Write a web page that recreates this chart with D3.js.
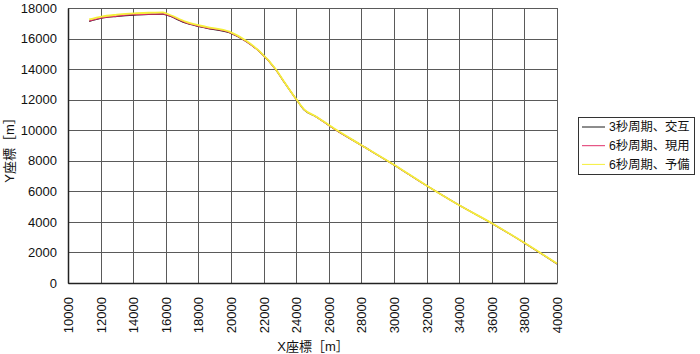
<!DOCTYPE html>
<html>
<head>
<meta charset="utf-8">
<script src="https://cdn.jsdelivr.net/npm/d3@7"></script>
<style>
  body { margin: 0; background: #fff; }
  text { font-family: "Liberation Sans", Arial, "Noto Sans CJK JP", sans-serif; fill: #111; }
</style>
</head>
<body>
<div id="chart"></div>
<script>
// ************ data ************
const xTicks = [10000, 12000, 14000, 16000, 18000, 20000, 22000, 24000, 26000, 28000, 30000, 32000, 34000, 36000, 38000, 40000]
const yTicks = [0, 2000, 4000, 6000, 8000, 10000, 12000, 14000, 16000, 18000]

const seriesNames = ["3秒周期、交互", "6秒周期、現用", "6秒周期、予備"]
const seriesColors = ["#1a1a1a", "#e0306a", "#f5ef3a"]

// x positions (shared by the three series)
const posX = [11300, 12060, 13000, 14040, 15000, 15830, 16040, 17260, 18480, 19900, 20930, 21740, 22760, 23170, 24020, 24500, 25210, 26430, 27960, 30000, 31940, 33980, 36010, 38050, 40000]

const alt3s = [17120, 17330, 17450, 17540, 17580, 17600, 17540, 17000, 16680, 16380, 15800, 15150, 13950, 13300, 12000, 11320, 10880, 10020, 9040, 7730, 6410, 5100, 3900, 2590, 1250]
const cur6s = [17150, 17350, 17470, 17560, 17600, 17620, 17560, 17020, 16700, 16400, 15810, 15150, 13950, 13300, 11990, 11330, 10890, 10020, 9040, 7730, 6410, 5100, 3900, 2590, 1260]
const spare6s = [17250, 17440, 17560, 17650, 17690, 17710, 17640, 17090, 16760, 16450, 15850, 15180, 13970, 13320, 12010, 11350, 10900, 10040, 9050, 7740, 6420, 5110, 3910, 2600, 1270]

const seriesValues = [alt3s, cur6s, spare6s]

// ************ layout ************
const svgWidth = 700
const svgHeight = 354
const margin = { top: 8, right: 143, bottom: 71, left: 68 }
const width = svgWidth - margin.left - margin.right
const height = svgHeight - margin.top - margin.bottom

const x = d3.scaleLinear().domain([10000, 40000]).range([0, width])
const y = d3.scaleLinear().domain([0, 18000]).range([height, 0])

const svg = d3.select("#chart")
  .append("svg")
  .attr("width", svgWidth)
  .attr("height", svgHeight)

const g = svg.append("g")
  .attr("transform", "translate(" + margin.left + "," + margin.top + ")")

// grid
g.append("g")
  .selectAll("line")
  .data(xTicks)
  .enter()
  .append("line")
  .attr("x1", d => Math.round(x(d)) + 0.5)
  .attr("x2", d => Math.round(x(d)) + 0.5)
  .attr("y1", 0)
  .attr("y2", height)
  .attr("stroke", "#5a5a5a")
  .attr("stroke-width", 1)

g.append("g")
  .selectAll("line")
  .data(yTicks)
  .enter()
  .append("line")
  .attr("x1", 0)
  .attr("x2", width)
  .attr("y1", d => Math.round(y(d)) + 0.5)
  .attr("y2", d => Math.round(y(d)) + 0.5)
  .attr("stroke", "#5a5a5a")
  .attr("stroke-width", 1)

// axes
const xAxis = d3.axisBottom(x).tickValues(xTicks).tickSize(0).tickPadding(0).tickFormat(d3.format("d"))
const yAxis = d3.axisLeft(y).tickValues(yTicks).tickSize(0).tickPadding(11).tickFormat(d3.format("d"))

const gx = g.append("g")
  .attr("transform", "translate(0," + height + ")")
  .call(xAxis)
gx.select(".domain").attr("stroke", "#222").attr("stroke-width", 1.5)
gx.selectAll("text")
  .attr("transform", "rotate(-90)")
  .attr("x", -14)
  .attr("y", 0)
  .attr("dy", "0.35em")
  .style("text-anchor", "end")
  .style("font-size", "13px")
  .style("fill", "#111")

const gy = g.append("g").call(yAxis)
gy.select(".domain").attr("stroke", "#222").attr("stroke-width", 1.5)
gy.selectAll("text")
  .style("font-size", "13px")
  .style("fill", "#111")

// series lines
const line = d3.line()
  .x((d, i) => x(posX[i]))
  .y(d => y(d))
  .curve(d3.curveMonotoneX)

const widths = [1.2, 1.2, 1.8]
seriesValues.forEach(function(vals, k) {
  g.append("path")
    .datum(vals)
    .attr("fill", "none")
    .attr("stroke", seriesColors[k])
    .attr("stroke-width", widths[k])
    .attr("d", line)
})

// axis titles
svg.append("text")
  .attr("x", 313)
  .attr("y", 351)
  .attr("text-anchor", "middle")
  .style("font-size", "13px")
  .text("X座標［m］")

svg.append("text")
  .attr("transform", "translate(14,147) rotate(-90)")
  .attr("text-anchor", "middle")
  .style("font-size", "13px")
  .text("Y座標［m］")

// legend
const legend = svg.append("g").attr("transform", "translate(578,117)")
legend.append("rect")
  .attr("x", 0.5)
  .attr("y", 0.5)
  .attr("width", 116)
  .attr("height", 57)
  .attr("fill", "#fff")
  .attr("stroke", "#333")

const items = legend.selectAll(".item")
  .data(seriesNames)
  .enter()
  .append("g")
  .attr("transform", (d, i) => "translate(0," + (10 + i * 18.7) + ")")

items.append("line")
  .attr("x1", 4)
  .attr("x2", 27)
  .attr("y1", 0)
  .attr("y2", 0)
  .attr("stroke", (d, i) => seriesColors[i])
  .attr("stroke-width", 1)

items.append("text")
  .attr("x", 31)
  .attr("y", 0)
  .attr("dy", "0.35em")
  .style("font-size", "12.3px")
  .text(d => d)
</script>
</body>
</html>
